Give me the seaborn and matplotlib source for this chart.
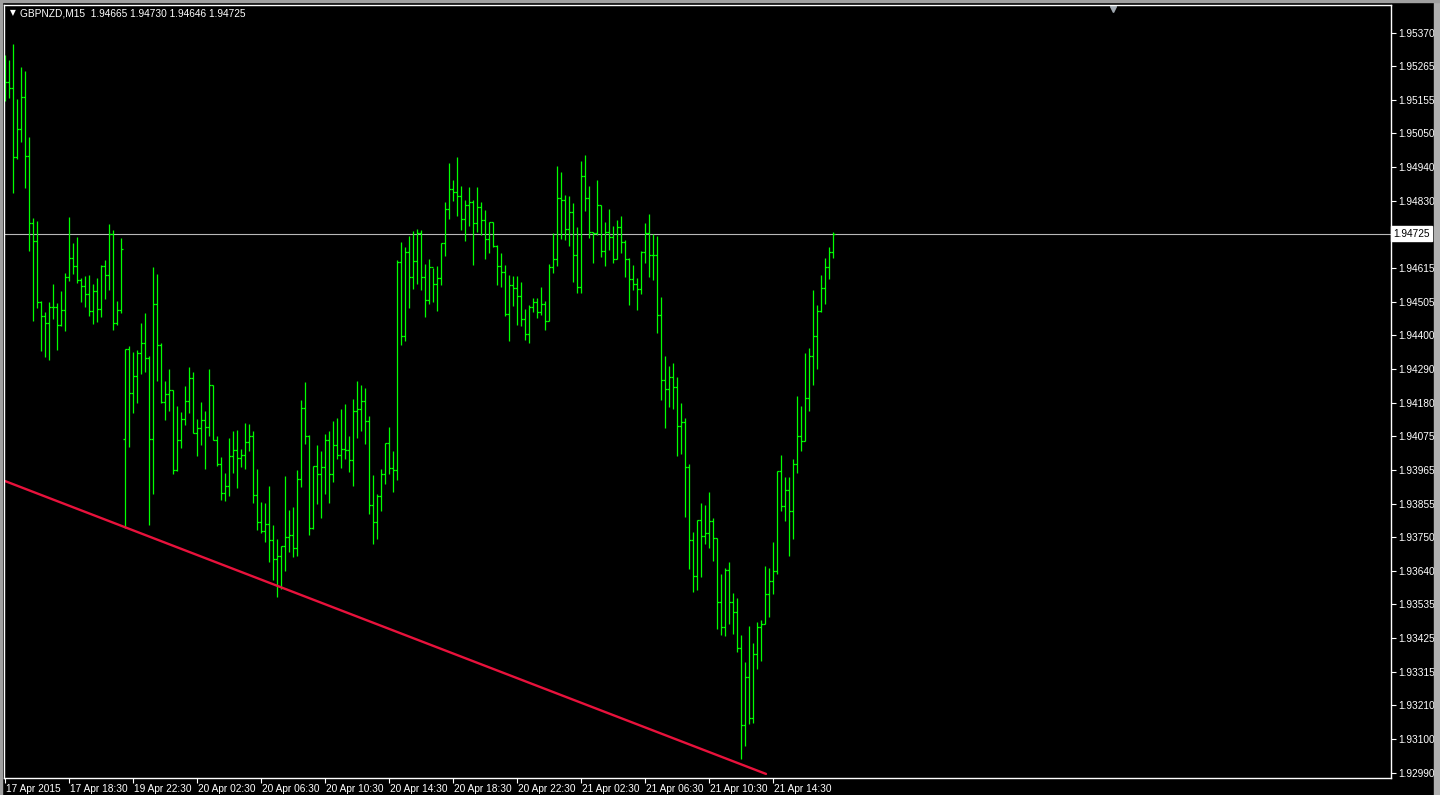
import numpy as np
import pandas as pd
import matplotlib
matplotlib.use("Agg")
import matplotlib.pyplot as plt
import matplotlib.transforms as mtransforms
from matplotlib.patches import Rectangle
import seaborn as sns

# GBPNZD M15 - barras OHLC
symbol = "GBPNZD,M15"
last_bar = ["1.94665", "1.94730", "1.94646", "1.94725"]
bid_price = 1.94725

opens = [
    1.95212, 1.95212, 1.95193, 1.94971, 1.95061, 1.95164, 1.94974, 1.94759, 1.94701, 1.94505,
    1.94460, 1.94437, 1.94489, 1.94489, 1.94431, 1.94479, 1.94585, 1.94646, 1.94621, 1.94576,
    1.94556, 1.94531, 1.94476, 1.94540, 1.94482, 1.94621, 1.94592, 1.94724, 1.94437, 1.94479,
    1.94064, 1.94354, 1.94212, 1.94267, 1.94341, 1.94373, 1.94325, 1.94064, 1.94498, 1.94367,
    1.94183, 1.94209, 1.94222, 1.93965, 1.94061, 1.94129, 1.94187, 1.94260, 1.94084, 1.94100,
    1.94125, 1.94103, 1.94238, 1.94061, 1.93984, 1.93891, 1.93913, 1.94010, 1.94029, 1.94003,
    1.94013, 1.94055, 1.94074, 1.93884, 1.93797, 1.93768, 1.93791, 1.93740, 1.93678, 1.93688,
    1.93720, 1.93749, 1.93756, 1.93714, 1.93936, 1.94164, 1.94074, 1.93778, 1.93977, 1.93952,
    1.93974, 1.94061, 1.93952, 1.94045, 1.94013, 1.94032, 1.94029, 1.93997, 1.94154, 1.94161,
    1.94187, 1.94122, 1.93852, 1.93797, 1.93881, 1.93952, 1.94051, 1.93971, 1.93965, 1.94634,
    1.94396, 1.94666, 1.94585, 1.94637, 1.94727, 1.94585, 1.94511, 1.94617, 1.94563, 1.94582,
    1.94695, 1.94804, 1.94868, 1.94859, 1.94846, 1.94772, 1.94817, 1.94826, 1.94759, 1.94810,
    1.94769, 1.94707, 1.94762, 1.94685, 1.94621, 1.94601, 1.94466, 1.94560, 1.94550, 1.94524,
    1.94450, 1.94402, 1.94489, 1.94505, 1.94473, 1.94498, 1.94444, 1.94617, 1.94643, 1.94839,
    1.94833, 1.94740, 1.94794, 1.94656, 1.94553, 1.94910, 1.94839, 1.94730, 1.94727, 1.94817,
    1.94669, 1.94730, 1.94714, 1.94643, 1.94746, 1.94698, 1.94643, 1.94579, 1.94563, 1.94547,
    1.94666, 1.94727, 1.94656, 1.94656, 1.94463, 1.94254, 1.94225, 1.94264, 1.94232, 1.94106,
    1.94119, 1.93974, 1.93740, 1.93624, 1.93804, 1.93752, 1.93762, 1.93801, 1.93746, 1.93540,
    1.93460, 1.93643, 1.93540, 1.93508, 1.93392, 1.93145, 1.93299, 1.93167, 1.93373, 1.93460,
    1.93469, 1.93566, 1.93608, 1.93640, 1.93961, 1.93849, 1.93900, 1.93833, 1.93984, 1.94074,
    1.94058, 1.94196, 1.94331, 1.94396, 1.94476, 1.94550, 1.94617, 1.94665,
]

highs = [
    1.95299, 1.95283, 1.95335, 1.95158, 1.95261, 1.95248, 1.95035, 1.94775, 1.94765, 1.94508,
    1.94473, 1.94505, 1.94563, 1.94502, 1.94540, 1.94598, 1.94778, 1.94695, 1.94714, 1.94582,
    1.94588, 1.94592, 1.94563, 1.94582, 1.94624, 1.94640, 1.94756, 1.94736, 1.94508, 1.94711,
    1.94354, 1.94363, 1.94344, 1.94351, 1.94437, 1.94470, 1.94331, 1.94617, 1.94595, 1.94373,
    1.94251, 1.94289, 1.94222, 1.94170, 1.94151, 1.94235, 1.94296, 1.94280, 1.94129, 1.94183,
    1.94154, 1.94289, 1.94238, 1.94074, 1.94006, 1.93955, 1.94068, 1.94090, 1.94093, 1.94032,
    1.94116, 1.94113, 1.94090, 1.93968, 1.93862, 1.93858, 1.93913, 1.93788, 1.93743, 1.93720,
    1.93945, 1.93836, 1.93846, 1.93965, 1.94190, 1.94248, 1.94077, 1.93977, 1.94045, 1.94026,
    1.94080, 1.94090, 1.94122, 1.94132, 1.94161, 1.94177, 1.94074, 1.94193, 1.94251, 1.94238,
    1.94228, 1.94138, 1.93949, 1.93887, 1.93968, 1.94051, 1.94103, 1.94026, 1.94640, 1.94698,
    1.94682, 1.94717, 1.94733, 1.94740, 1.94736, 1.94627, 1.94643, 1.94614, 1.94621, 1.94695,
    1.94826, 1.94952, 1.94897, 1.94971, 1.94878, 1.94833, 1.94875, 1.94833, 1.94875, 1.94826,
    1.94801, 1.94762, 1.94762, 1.94688, 1.94662, 1.94624, 1.94592, 1.94588, 1.94588, 1.94569,
    1.94482, 1.94495, 1.94518, 1.94518, 1.94553, 1.94508, 1.94627, 1.94727, 1.94942, 1.94923,
    1.94849, 1.94846, 1.94823, 1.94746, 1.94958, 1.94978, 1.94878, 1.94730, 1.94897, 1.94817,
    1.94762, 1.94804, 1.94749, 1.94769, 1.94781, 1.94704, 1.94646, 1.94624, 1.94582, 1.94669,
    1.94759, 1.94788, 1.94724, 1.94717, 1.94521, 1.94331, 1.94299, 1.94309, 1.94264, 1.94180,
    1.94132, 1.93984, 1.93765, 1.93804, 1.93858, 1.93852, 1.93894, 1.93810, 1.93746, 1.93630,
    1.93649, 1.93669, 1.93569, 1.93553, 1.93434, 1.93347, 1.93463, 1.93408, 1.93476, 1.93482,
    1.93656, 1.93649, 1.93733, 1.93961, 1.94013, 1.93942, 1.93942, 1.94000, 1.94203, 1.94170,
    1.94341, 1.94357, 1.94543, 1.94495, 1.94592, 1.94646, 1.94682, 1.94730,
]

lows = [
    1.95151, 1.95161, 1.94855, 1.94965, 1.95019, 1.94871, 1.94669, 1.94444, 1.94486, 1.94347,
    1.94328, 1.94318, 1.94450, 1.94351, 1.94428, 1.94412, 1.94572, 1.94595, 1.94566, 1.94505,
    1.94489, 1.94460, 1.94434, 1.94441, 1.94457, 1.94515, 1.94543, 1.94415, 1.94431, 1.94470,
    1.93778, 1.94039, 1.94148, 1.94180, 1.94273, 1.94280, 1.93788, 1.93887, 1.94251, 1.94180,
    1.94125, 1.94154, 1.93952, 1.93961, 1.94035, 1.94109, 1.94148, 1.94084, 1.94010, 1.94045,
    1.93968, 1.94074, 1.94061, 1.93977, 1.93868, 1.93865, 1.93881, 1.93955, 1.93907, 1.93974,
    1.93968, 1.94026, 1.93858, 1.93772, 1.93762, 1.93733, 1.93669, 1.93611, 1.93556, 1.93582,
    1.93640, 1.93701, 1.93685, 1.93688, 1.93910, 1.94048, 1.93756, 1.93775, 1.93855, 1.93810,
    1.93887, 1.93858, 1.93926, 1.94000, 1.93971, 1.94000, 1.93958, 1.93913, 1.94068, 1.94090,
    1.94048, 1.93823, 1.93727, 1.93743, 1.93833, 1.93920, 1.93952, 1.93894, 1.93932, 1.94367,
    1.94379, 1.94486, 1.94547, 1.94563, 1.94543, 1.94457, 1.94498, 1.94505, 1.94476, 1.94560,
    1.94653, 1.94772, 1.94830, 1.94781, 1.94736, 1.94701, 1.94749, 1.94624, 1.94730, 1.94720,
    1.94643, 1.94662, 1.94682, 1.94560, 1.94553, 1.94460, 1.94379, 1.94492, 1.94431, 1.94428,
    1.94383, 1.94373, 1.94473, 1.94453, 1.94463, 1.94415, 1.94444, 1.94598, 1.94621, 1.94707,
    1.94704, 1.94685, 1.94569, 1.94534, 1.94534, 1.94798, 1.94711, 1.94630, 1.94720, 1.94650,
    1.94621, 1.94672, 1.94630, 1.94643, 1.94662, 1.94585, 1.94495, 1.94543, 1.94479, 1.94531,
    1.94630, 1.94585, 1.94576, 1.94405, 1.94190, 1.94100, 1.94167, 1.94161, 1.94010, 1.94016,
    1.93814, 1.93646, 1.93572, 1.93579, 1.93621, 1.93727, 1.93714, 1.93672, 1.93453, 1.93434,
    1.93431, 1.93469, 1.93437, 1.93379, 1.93035, 1.93077, 1.93148, 1.93151, 1.93325, 1.93350,
    1.93469, 1.93492, 1.93566, 1.93630, 1.93833, 1.93801, 1.93688, 1.93743, 1.93955, 1.94026,
    1.94058, 1.94154, 1.94238, 1.94289, 1.94473, 1.94498, 1.94579, 1.94646,
]

closes = [
    1.95212, 1.95193, 1.94971, 1.95061, 1.95164, 1.94974, 1.94759, 1.94701, 1.94505, 1.94460,
    1.94437, 1.94489, 1.94489, 1.94431, 1.94479, 1.94585, 1.94646, 1.94621, 1.94576, 1.94556,
    1.94531, 1.94476, 1.94540, 1.94482, 1.94621, 1.94592, 1.94724, 1.94437, 1.94479, 1.94675,
    1.94354, 1.94212, 1.94267, 1.94341, 1.94373, 1.94325, 1.94064, 1.94498, 1.94367, 1.94183,
    1.94209, 1.94222, 1.93965, 1.94061, 1.94129, 1.94187, 1.94260, 1.94084, 1.94100, 1.94125,
    1.94103, 1.94238, 1.94061, 1.93984, 1.93891, 1.93913, 1.94010, 1.94029, 1.94003, 1.94013,
    1.94055, 1.94074, 1.93884, 1.93797, 1.93768, 1.93791, 1.93740, 1.93678, 1.93688, 1.93720,
    1.93749, 1.93756, 1.93714, 1.93936, 1.94164, 1.94074, 1.93778, 1.93977, 1.93952, 1.93974,
    1.94061, 1.93952, 1.94045, 1.94013, 1.94032, 1.94029, 1.93997, 1.94154, 1.94161, 1.94187,
    1.94122, 1.93852, 1.93797, 1.93881, 1.93952, 1.94051, 1.93971, 1.93965, 1.94634, 1.94396,
    1.94666, 1.94585, 1.94637, 1.94727, 1.94585, 1.94511, 1.94617, 1.94563, 1.94582, 1.94695,
    1.94804, 1.94868, 1.94859, 1.94846, 1.94772, 1.94817, 1.94826, 1.94759, 1.94810, 1.94769,
    1.94707, 1.94762, 1.94685, 1.94621, 1.94601, 1.94466, 1.94560, 1.94550, 1.94524, 1.94450,
    1.94402, 1.94489, 1.94505, 1.94473, 1.94498, 1.94444, 1.94617, 1.94643, 1.94839, 1.94833,
    1.94740, 1.94794, 1.94656, 1.94553, 1.94910, 1.94839, 1.94730, 1.94727, 1.94817, 1.94669,
    1.94730, 1.94714, 1.94643, 1.94746, 1.94698, 1.94643, 1.94579, 1.94563, 1.94547, 1.94666,
    1.94727, 1.94656, 1.94656, 1.94463, 1.94254, 1.94225, 1.94264, 1.94232, 1.94106, 1.94119,
    1.93974, 1.93740, 1.93624, 1.93804, 1.93752, 1.93762, 1.93801, 1.93746, 1.93540, 1.93460,
    1.93643, 1.93540, 1.93508, 1.93392, 1.93145, 1.93299, 1.93167, 1.93373, 1.93460, 1.93469,
    1.93566, 1.93608, 1.93640, 1.93961, 1.93849, 1.93900, 1.93833, 1.93984, 1.94074, 1.94058,
    1.94196, 1.94331, 1.94396, 1.94476, 1.94550, 1.94617, 1.94665, 1.94725,
]

# linea de tendencia (indice de barra, precio)
trend_bars = [0, 190.25]
trend_prices = [1.93929, 1.92987]

# etiquetas de tiempo cada 16 barras
time_ticks = [0, 16, 32, 48, 64, 80, 96, 112, 128, 144, 160, 176, 192]
time_labels = ["17 Apr 2015", "17 Apr 18:30", "19 Apr 22:30", "20 Apr 02:30",
               "20 Apr 06:30", "20 Apr 10:30", "20 Apr 14:30", "20 Apr 18:30",
               "20 Apr 22:30", "21 Apr 02:30", "21 Apr 06:30", "21 Apr 10:30",
               "21 Apr 14:30"]

price_ticks = [1.95370, 1.95265, 1.95155, 1.95050, 1.94940, 1.94830, 1.94615,
               1.94505, 1.94400, 1.94290, 1.94180, 1.94075, 1.93965, 1.93855,
               1.93750, 1.93640, 1.93535, 1.93425, 1.93315, 1.93210, 1.93100,
               1.92990]

df = pd.DataFrame({"open": opens, "high": highs, "low": lows, "close": closes})
df["bar"] = np.arange(len(df))

sns.set_theme(style="dark", rc={"axes.facecolor": "black", "figure.facecolor": "black",
                                "axes.grid": False})
plt.rcParams['font.family'] = ['Liberation Sans', 'DejaVu Sans']

W, H = 1440, 795
fig = plt.figure(figsize=(W / 100, H / 100), dpi=100, facecolor="black")
ax = fig.add_axes([4 / W, 17 / H, 1387 / W, 773 / H])
ax.set_facecolor("black")

green = "#00ff00"
ax.vlines(df["bar"], df["low"], df["high"], color=green, lw=0.9)
ax.hlines(df["open"], df["bar"] - 0.45, df["bar"], color=green, lw=0.9)
ax.hlines(df["close"], df["bar"], df["bar"] + 0.45, color=green, lw=0.9)

# linea bid
ax.axhline(bid_price, color="#b8b8b8", lw=0.8, zorder=0)

# linea de tendencia
sns.lineplot(x=trend_bars, y=trend_prices, ax=ax, color="#e8123c", lw=1.7)

ax.set_xlim(-0.25, 346.5)
ax.set_ylim(1.929739, 1.954601)

for s in ax.spines.values():
    s.set_visible(True)
    s.set_color("white")
    s.set_linewidth(1.0)

ax.yaxis.tick_right()
ax.set_yticks(price_ticks)
ax.set_yticklabels([f"{p:.5f}" for p in price_ticks])
ax.set_xticks(time_ticks)
ax.set_xticklabels(time_labels, ha="left")
ax.tick_params(axis="both", colors="white", labelcolor="white", labelsize=7.3,
               direction="out", length=3.5, width=0.8)
ax.tick_params(axis="y", pad=1.5, right=True, left=False)
ax.tick_params(axis="x", pad=0.8, bottom=True)
offset = mtransforms.ScaledTranslation(1.0 / 100, 0, fig.dpi_scale_trans)
for lbl in ax.get_xticklabels():
    lbl.set_transform(lbl.get_transform() + offset)
ax.set_xlabel("")
ax.set_ylabel("")

# etiqueta del precio actual
trans = mtransforms.blended_transform_factory(ax.transAxes, ax.transData)
ax.text(1.0016, bid_price, f"{bid_price:.5f}", transform=trans, color="black",
        fontsize=7.3, va="center", ha="left",
        bbox=dict(facecolor="white", edgecolor="white", pad=1.5))

# cabecera
fig.text(10 / W, 1 - 13 / H, "\u25bc", color="white", fontsize=5.5, va="center",
         ha="left", family=["DejaVu Sans"])
fig.text(20 / W, 1 - 13.5 / H, symbol + "  " + " ".join(last_bar), color="white",
         fontsize=7.3, va="center", ha="left")

# marcador de desplazamiento del grafico
ax.plot([0.7995], [0.995], marker="v", color="#a0a8b0", markersize=5,
        transform=ax.transAxes, clip_on=False)

# borde de ventana
fig.patches.append(Rectangle((0, 0), 2 / W, 1, transform=fig.transFigure,
                             color="#a0a0a0", zorder=5))
fig.patches.append(Rectangle((1434 / W, 0), 6 / W, 1, transform=fig.transFigure,
                             color="#b0b0b0", zorder=5))
fig.patches.append(Rectangle((0, 1 - 2 / H), 1, 2 / H, transform=fig.transFigure,
                             color="#a0a0a0", zorder=5))

fig.savefig("out.png", dpi=100, facecolor="black")
